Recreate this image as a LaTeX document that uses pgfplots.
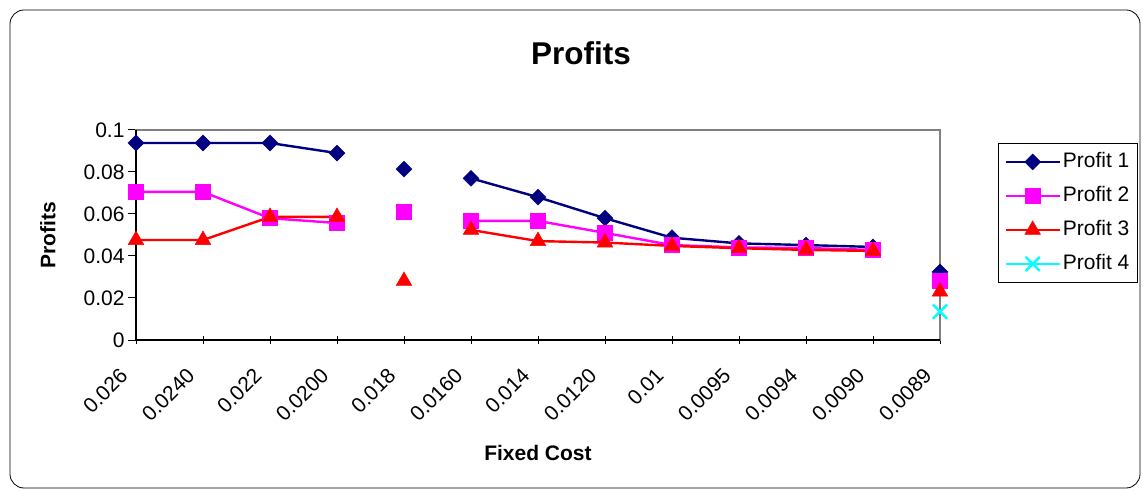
\documentclass[border=0pt]{standalone}
\usepackage{pgfplots}
\pgfplotsset{compat=1.18}
\usepackage{fontspec}
\setmainfont{Liberation Sans}
\definecolor{pnavy}{RGB}{0,0,128}
\definecolor{pmag}{RGB}{255,0,255}
\definecolor{pred}{RGB}{255,0,0}
\definecolor{pcyan}{RGB}{0,255,255}
\newcommand{\fs}[1]{\fontsize{#1}{#1}\selectfont}
\begin{document}
\begin{tikzpicture}
\useasboundingbox (0pt,0pt) rectangle (1143pt,490pt);
\draw[black, line width=0.8pt, rounded corners=14pt] (10pt,2pt) rectangle (1140pt,480pt);
\node[font=\fs{31.5}\bfseries] at (581pt,437pt) {Profits};
\begin{axis}[
    at={(136pt,150pt)}, anchor=south west,
    scale only axis, width=804pt, height=210pt,
    xmin=0, xmax=12, ymin=0, ymax=0.1,
    clip=false,
    unbounded coords=jump,
    xtick={0,...,12},
    xticklabels={0.026,0.0240,0.022,0.0200,0.018,0.0160,0.014,0.0120,0.01,0.0095,0.0094,0.0090,0.0089},
    ytick={0,0.02,0.04,0.06,0.08,0.1},
    yticklabels={0,0.02,0.04,0.06,0.08,0.1},
    xtick pos=bottom, ytick pos=left,
    xtick align=center, ytick align=outside,
    major tick length=8pt,
    tick style={black, line width=1pt},
    axis line style={draw=gray, line width=1.6pt},
    ticklabel style={font=\fs{21}},
    xticklabel style={xshift=-12pt, yshift=-28pt, rotate=45, anchor=east, inner sep=0pt},
    /pgf/number format/assume math mode=true,
    xlabel={Fixed Cost},
    ylabel={Profits},
    xlabel style={font=\fs{21}\bfseries, at={(axis description cs:0.5,-0.538)}, anchor=center},
    ylabel style={font=\fs{21}\bfseries, at={(axis description cs:-0.1095,0.5)}, anchor=center},
    legend style={at={(axis description cs:1.0722,0.938)}, anchor=north west,
        draw=black, line width=0.8pt, font=\fs{21}, row sep=15pt,
        inner xsep=6pt, inner ysep=9pt,
        nodes={inner xsep=2pt, inner ysep=0pt, text height=15pt, text depth=4pt}},
    legend cell align=left,
    legend image code/.code={\draw[#1, mark repeat=2, mark phase=2] plot coordinates {(0pt,0pt)(27pt,0pt)(54pt,0pt)};},
]
\addplot[color=pnavy, line width=2.4pt, mark=square*, mark size=5.6pt, mark options={solid, rotate=45, line width=0.5pt}]
    coordinates {
    (0,0.0938)(1,0.0938)(2,0.0938)(3,0.0890)(3.5,nan)(4,0.0814)(4.5,nan)
    (5,0.0770)(6,0.0680)(7,0.0580)(8,0.0487)(9,0.0460)(10,0.0452)(11,0.0443)(11.5,nan)(12,0.0324)
    };
\addplot[color=pmag, line width=2.4pt, mark=square*, mark size=7.5pt, mark options={solid, line width=0.5pt}]
    coordinates {
    (0,0.0705)(1,0.0705)(2,0.0580)(3,0.0557)(3.5,nan)(4,0.0610)(4.5,nan)
    (5,0.0567)(6,0.0567)(7,0.0510)(8,0.0452)(9,0.0441)(10,0.0438)(11,0.0429)(11.5,nan)(12,0.0282)
    };
\addplot[color=pred, line width=2.4pt, mark=triangle*, mark size=9pt, mark options={solid, line width=0.5pt}]
    coordinates {
    (0,0.0476)(1,0.0476)(2,0.0586)(3,0.0586)(3.5,nan)(4,0.0281)(4.5,nan)
    (5,0.0524)(6,0.0471)(7,0.0464)(8,0.0448)(9,0.0437)(10,0.0429)(11,0.0424)(11.5,nan)(12,0.0230)
    };
\addplot[color=pcyan, line width=2.4pt, mark=x, mark size=10pt, mark options={solid, line width=2.4pt}]
    coordinates {
    (12,0.0135)
    };
\draw[black, line width=1.4pt] (rel axis cs:0,1) -- (rel axis cs:0,0) -- (rel axis cs:1,0);
\legend{Profit 1,Profit 2,Profit 3,Profit 4}
\end{axis}
\end{tikzpicture}
\end{document}
